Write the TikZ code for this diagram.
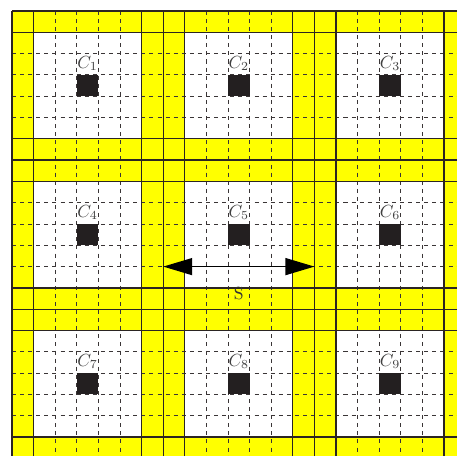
\documentclass[tikz,border=0pt]{standalone}
\usepackage{tikz}
\usetikzlibrary{arrows.meta,positioning}
\definecolor{cellyellow}{HTML}{FFFF00}
\definecolor{coreblack}{HTML}{231F20}
\definecolor{lineblack}{HTML}{2B2522}
\definecolor{dashgray}{HTML}{3A3536}

\begin{document}
\begin{tikzpicture}[x=0.432cm,y=-0.426cm,
  solidline/.style={line width=0.7pt,lineblack},
  gridline/.style={line width=0.5pt,dashgray,dash pattern=on 2.3pt off 2.3pt},
  core/.style={fill=coreblack,draw=none,inner sep=0pt,minimum width=0.432cm,minimum height=0.426cm},
  celllabel/.style={black!75,inner sep=2pt}]
  \clip (-0.556,-0.516) rectangle (20.6,20.845);

  % Yellow field with white cell interiors
  \fill[cellyellow] (0,0) rectangle (21,21);
  \foreach \i in {0,1,2}
    \foreach \j in {0,1,2}
      \fill[white] ({7*\i+1},{7*\j+1}) rectangle ({7*\i+6},{7*\j+6});

  % Dashed grid
  \foreach \i in {0,1,2}
    \foreach \k in {2,...,5} {
      \draw[gridline] ({7*\i+\k},0) -- ({7*\i+\k},21);
      \draw[gridline] (0,{7*\i+\k}) -- (21,{7*\i+\k});
    }

  % Solid lines
  \foreach \i in {0,1,2}
    \foreach \k in {0,1,6,7} {
      \draw[solidline] ({7*\i+\k},0) -- ({7*\i+\k},21);
      \draw[solidline] (0,{7*\i+\k}) -- (21,{7*\i+\k});
    }

  % Cells C_1 ... C_9
  \foreach \j in {0,1,2}
    \foreach \i in {0,1,2} {
      \pgfmathtruncatemacro{\n}{3*\j+\i+1}
      \node[core] (b\n) at ({7*\i+3.5},{7*\j+3.5}) {};
      \node[celllabel,above=0pt of b\n] (c\n) {$C_{\n}$};
    }

  % Spacing S
  \coordinate (sl) at (7,12);
  \coordinate (sr) at (14,12);
  \draw[line width=0.8pt,black,{Triangle[length=0.58cm,width=0.34cm]}-{Triangle[length=0.58cm,width=0.34cm]}] (sl) -- (sr);
  \node[black!80] (s) at (10.5,13.25) {S};
\end{tikzpicture}
\end{document}
